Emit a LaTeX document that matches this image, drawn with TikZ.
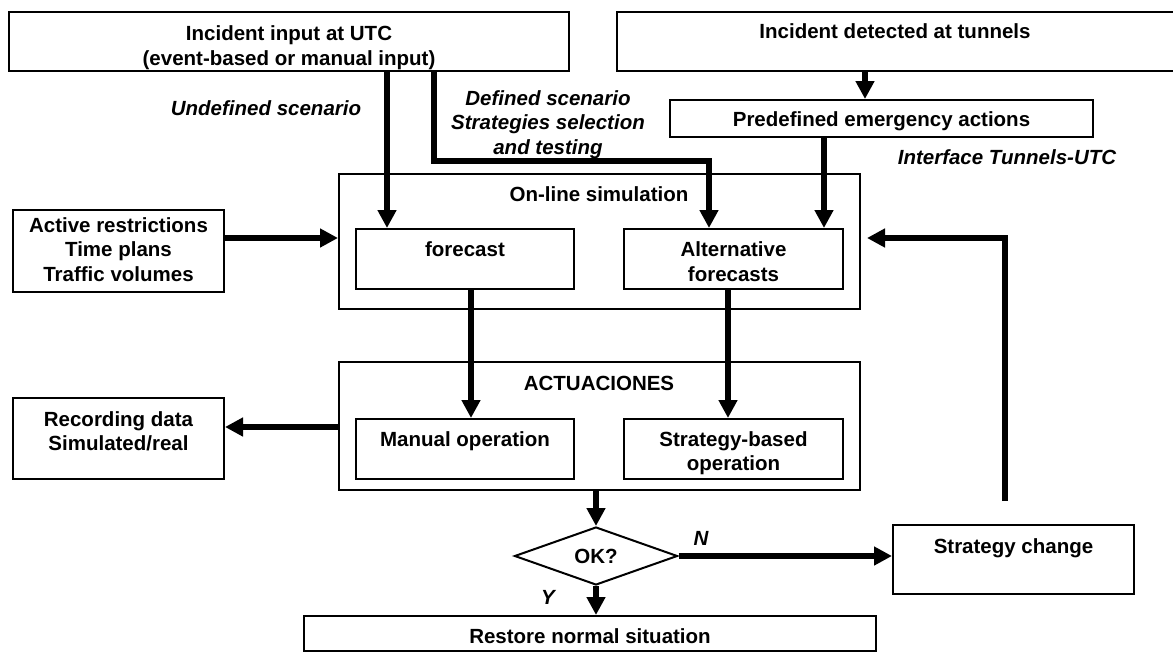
\documentclass[tikz,border=0pt]{standalone}
\usepackage{fontspec}
\setmainfont{Liberation Sans}
\usetikzlibrary{arrows.meta,shapes.geometric}
\newcommand{\bxfont}{\fontsize{20.5pt}{24.5pt}\selectfont\bfseries}
\tikzset{
  box/.style={draw, line width=2pt, inner sep=0pt, anchor=north west},
  txt/.style={font=\bxfont, align=center, inner sep=0pt},
  note/.style={font=\bxfont\itshape, align=center, inner sep=0pt},
  flow/.style={line width=6pt, -{Triangle[length=18pt,width=18pt]}},
}

\begin{document}
\begin{tikzpicture}[x=1pt,y=-1pt]
    \useasboundingbox (0,0) rectangle (1173,651);

    % incident sources
    \node[box, minimum width=560pt, minimum height=59pt,
          label={[txt,yshift=-6pt]center:Incident input at UTC\\(event-based or manual input)}] (utc) at (8,11) {};
    \node[box, minimum width=560pt, minimum height=59pt,
          label={[txt,xshift=-2pt,yshift=10.5pt]center:Incident detected at tunnels}] (tun) at (616,11) {};
    \node[box, minimum width=423pt, minimum height=37pt,
          label={[txt,yshift=-2.5pt]center:Predefined emergency actions}] (pre) at (669,99) {};

    % simulation block
    \node[box, minimum width=521pt, minimum height=135pt,
          label={[txt,xshift=-0.5pt,yshift=47.5pt]center:On-line simulation}] (sim) at (338,173) {};
    \node[box, minimum width=218pt, minimum height=60pt,
          label={[txt,yshift=10pt]center:forecast}] (fc) at (355,228) {};
    \node[box, minimum width=219pt, minimum height=60pt,
          label={[txt,yshift=-2.5pt]center:Alternative\\forecasts}] (alt) at (623,228) {};
    \node[box, minimum width=211pt, minimum height=82pt,
          label={[txt,yshift=1.5pt]center:Active restrictions\\Time plans\\Traffic volumes}] (act) at (12,209) {};

    % operation block
    \node[box, minimum width=521pt, minimum height=128pt,
          label={[txt,xshift=-0.5pt,yshift=43pt]center:ACTUACIONES}] (op) at (338,361) {};
    \node[box, minimum width=218pt, minimum height=60pt,
          label={[txt,yshift=8pt]center:Manual operation}] (man) at (355,418) {};
    \node[box, minimum width=219pt, minimum height=60pt,
          label={[txt,yshift=-4pt]center:Strategy-based\\operation}] (sbo) at (623,418) {};
    \node[box, minimum width=211pt, minimum height=81pt,
          label={[txt,yshift=7pt]center:Recording data\\Simulated/real}] (rec) at (12,397) {};

    % decision
    \node[draw, diamond, line width=2pt, inner sep=0pt, minimum width=163pt,
          minimum height=58pt, font=\bxfont] (ok) at (596,556) {OK?};
    \node[box, minimum width=241pt, minimum height=69pt,
          label={[txt,yshift=11.5pt]center:Strategy change}] (sc) at (892,524) {};
    \node[box, minimum width=572pt, minimum height=35pt,
          label={[txt,yshift=-2.5pt]center:Restore normal situation}] (rest) at (303,615) {};

    % labels
    \node[note] (und) at (266,108) {Undefined scenario};
    \node[note] (def) at (548,124.5) {Defined scenario\\Strategies selection\\and testing};
    \node[note] (itf) at (1007,157) {Interface Tunnels-UTC};
    \node[note] (lN) at (701,538) {N};
    \node[note] (lY) at (548,597) {Y};

    % arrows
    \coordinate (x1) at (387,0);
    \coordinate (x2) at (434,0);
    \coordinate (bend) at (709,161);
    \coordinate (x3) at (865,0);
    \coordinate (x4) at (824,0);
    \coordinate (y1) at (0,238);
    \coordinate (x5) at (471,0);
    \coordinate (x6) at (728,0);
    \coordinate (y2) at (0,427);
    \coordinate (fb) at (1005,238);

    \draw[flow] (utc.south -| x1) -- (fc.north -| x1);
    \draw[flow] (utc.south -| x2) |- (bend) -- (alt.north -| bend);
    \draw[flow] (tun.south -| x3) -- (pre.north -| x3);
    \draw[flow] (pre.south -| x4) -- (alt.north -| x4);
    \draw[flow] (act.east |- y1) -- (sim.west |- y1);
    \draw[flow] (fc.south -| x5) -- (man.north -| x5);
    \draw[flow] (alt.south -| x6) -- (sbo.north -| x6);
    \draw[flow] (op.west |- y2) -- (rec.east |- y2);
    \draw[flow] (op.south -| ok.north) -- (ok.north);
    \draw[flow] (ok.south) -- (rest.north -| ok.south);
    \draw[flow] (ok.east) -- (sc.west |- ok.east);
    \draw[flow, shorten <=23pt, shorten >=6pt] (sc.north -| fb) |- (sim.east |- fb);
\end{tikzpicture}
\end{document}
